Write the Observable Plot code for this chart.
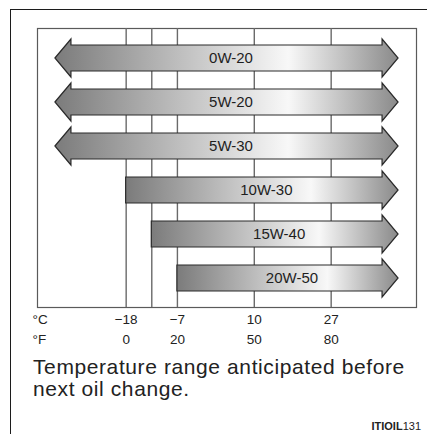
<!DOCTYPE html>
<html>
<head>
<meta charset="utf-8">
<script src="https://cdn.jsdelivr.net/npm/d3@7"></script>
<script src="https://cdn.jsdelivr.net/npm/@observablehq/plot@0.6"></script>
<style>
  html, body { margin: 0; padding: 0; background: #fff; }
  #wrap { position: relative; width: 427px; height: 434px; overflow: hidden;
          font-family: "Liberation Sans", Arial, Helvetica, sans-serif; color: #222; }
  #chart svg { display: block; }
  #border { position: absolute; left: 10px; top: 8.5px; right: -4px; bottom: -4px;
            border-left: 1.5px solid #1c1c1c; border-top: 1.5px solid #1c1c1c; pointer-events: none; }
  #caption { position: absolute; left: 33px; top: 356px; font-size: 21px; line-height: 22px;
             letter-spacing: 0.6px; color: #222; white-space: nowrap; }
  #code { position: absolute; right: 6px; top: 420px; font-size: 11px; color: #222; }
</style>
</head>
<body>
<div id="wrap">
  <div id="chart"></div>
  <div id="caption">Temperature range anticipated before<br>next oil change.</div>
  <div id="code"><b>ITIOIL</b>131</div>
  <div id="border"></div>
</div>
<script>
// ---- data ----
const grades = ["0W-20", "5W-20", "5W-30", "10W-30", "15W-40", "20W-50"];
// lowest / highest anticipated temperature (°F); null = open-ended (arrow)
const minF = [null, null, null, 0, 10, 20];
const maxF = [null, null, null, null, null, null];
const gridF = [0, 10, 20, 50, 80];
const tickF = [0, 20, 50, 80];
const tickC = ["\u221218", "\u22127", "10", "27"];
const tickFLabels = ["0", "20", "50", "80"];
const xDomainF = [-34.6, 113.3];
const openLowF = -27.6;
const openHighF = 106.3;

const FONT = '"Liberation Sans", Arial, Helvetica, sans-serif';

function arrowMark(index, scales, values, dimensions, context) {
  const g = d3.create("svg:g");
  const grad = g.append("defs").append("linearGradient")
    .attr("id", "oilgrad").attr("x1", 0).attr("x2", 1).attr("y1", 0).attr("y2", 0);
  [[0, "#7b7b7b"], [0.35, "#bcbcbc"], [0.68, "#f8f8f8"], [1, "#8a8a8a"]].forEach(([o, c]) =>
    grad.append("stop").attr("offset", o).attr("stop-color", c));
  const bh = 13, hh = 19, L = 16;
  grades.forEach((name, i) => {
    const xa = scales.x(minF[i] ?? openLowF);
    const xb = scales.x(maxF[i] ?? openHighF);
    const cy = scales.y(name);
    const p = d3.path();
    if (minF[i] == null) {
      p.moveTo(xa, cy);
      p.lineTo(xa + L, cy - hh);
      p.lineTo(xa + L, cy - bh);
    } else {
      p.moveTo(xa, cy - bh);
    }
    p.lineTo(xb - L, cy - bh);
    p.lineTo(xb - L, cy - hh);
    p.lineTo(xb, cy);
    p.lineTo(xb - L, cy + hh);
    p.lineTo(xb - L, cy + bh);
    if (minF[i] == null) {
      p.lineTo(xa + L, cy + bh);
      p.lineTo(xa + L, cy + hh);
    } else {
      p.lineTo(xa, cy + bh);
    }
    p.closePath();
    g.append("path").attr("d", p.toString())
      .attr("fill", "url(#oilgrad)")
      .attr("stroke", "#2a2a2a").attr("stroke-width", 1.2)
      .attr("stroke-linejoin", "miter");
  });
  return g.node();
}

const chart = Plot.plot({
  width: 427,
  height: 350,
  marginLeft: 37,
  marginRight: 11,
  marginTop: 28,
  marginBottom: 43,
  x: { domain: xDomainF, axis: null },
  y: { type: "point", domain: grades, padding: 0.628, axis: null },
  style: { fontFamily: FONT, fontSize: "13.5px", color: "#222", background: "transparent", overflow: "visible" },
  marks: [
    Plot.frame({ stroke: "#5a5a5a", strokeWidth: 1.2 }),
    Plot.ruleX(gridF, { stroke: "#6a6a6a", strokeWidth: 1.4 }),
    arrowMark,
    Plot.text(grades, {
      x: (d, i) => ((minF[i] ?? openLowF) + (maxF[i] ?? openHighF)) / 2,
      y: d => d, text: d => d, dx: 4, fontSize: 15, fill: "#1e1e1e"
    }),
    Plot.text(tickF, { x: d => d, text: (d, i) => tickC[i], frameAnchor: "bottom", dy: 16 }),
    Plot.text(tickF, { x: d => d, text: (d, i) => tickFLabels[i], frameAnchor: "bottom", dy: 36 }),
    Plot.text(["\u00B0C"], { frameAnchor: "bottom-left", textAnchor: "start", dx: -5, dy: 16 }),
    Plot.text(["\u00B0F"], { frameAnchor: "bottom-left", textAnchor: "start", dx: -5, dy: 36 })
  ]
});
document.getElementById("chart").appendChild(chart);
</script>
</body>
</html>
